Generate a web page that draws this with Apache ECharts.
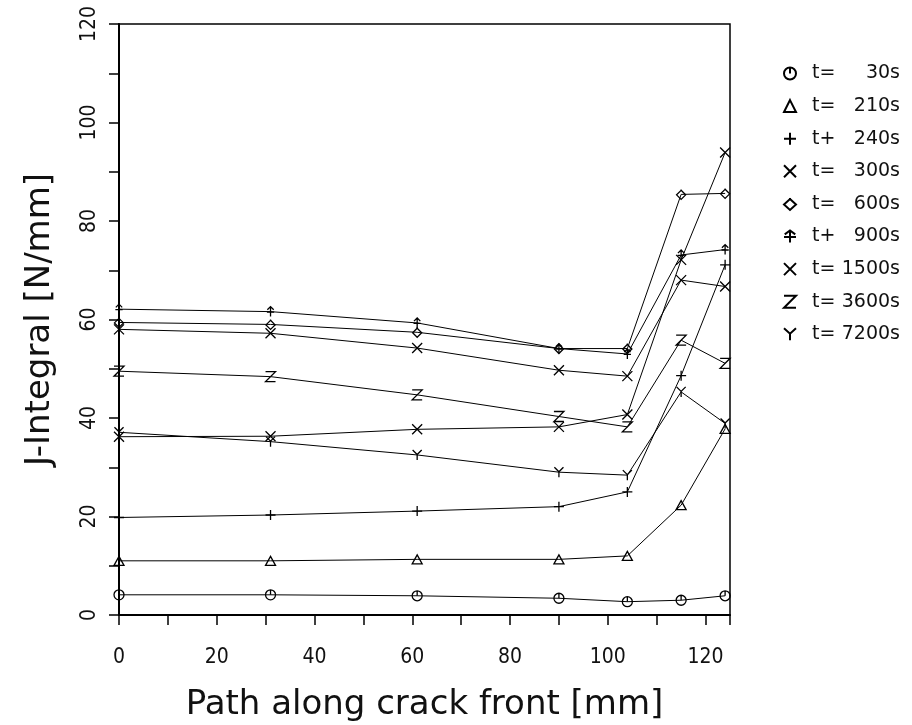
<!DOCTYPE html>
<html>
<head>
<meta charset="utf-8">
<script src="https://cdn.jsdelivr.net/npm/echarts@6/dist/echarts.min.js"></script>
<style>
  html, body { margin: 0; padding: 0; background: #fff; }
  #chart { width: 912px; height: 725px; }
</style>
</head>
<body>
<div id="chart"></div>
<script>
// Positions along the crack front [mm]
const pathPos = [0, 31, 61, 90, 104, 115, 124];

// J-integral values [N/mm] for each time step
const seriesNames = ['t=   30s', 't=  210s', 't+  240s', 't=  300s', 't=  600s', 't+  900s', 't=1500s', 't=3600s', 't=7200s'];
const j30   = [4.1, 4.1, 3.9, 3.4, 2.7, 3.0, 3.9];
const j210  = [11.0, 11.0, 11.3, 11.3, 12.0, 22.3, 37.8];
const j240  = [19.8, 20.3, 21.1, 22.0, 25.0, 48.6, 71.1];
const j300  = [36.2, 36.3, 37.7, 38.2, 40.7, 72.1, 93.9];
const j600  = [59.4, 59.0, 57.4, 54.1, 54.1, 85.4, 85.6];
const j900  = [62.1, 61.6, 59.3, 54.1, 53.0, 73.1, 74.2];
const j1500 = [58.0, 57.2, 54.2, 49.7, 48.5, 68.0, 66.7];
const j3600 = [49.5, 48.4, 44.7, 40.3, 38.2, 55.8, 51.1];
const j7200 = [37.1, 35.2, 32.5, 29.0, 28.4, 45.3, 38.9];

// Axis ticks
const xTickLabels = [0, 20, 40, 60, 80, 100, 120];
const yTickLabels = [0, 20, 40, 60, 80, 100, 120];

// Plotter-style marker shapes
const markers = [
  'path://M5,0 A5,5 0 1 1 5,10 A5,5 0 1 1 5,0 Z M5,0 L5,5',
  'path://M5,0 L10,9 L0,9 Z',
  'path://M5,0 L5,10 M0,5 L10,5',
  'path://M0,0 L10,10 M10,0 L0,10',
  'path://M5,0 L10,5 L5,10 L0,5 Z M5,0 L5,-1',
  'path://M5,0 L5,11 M1,6 L9,6 M1.5,3.5 L5,0 L8.5,3.5',
  'path://M0,0 L10,10 M10,0 L0,10',
  'path://M0,0 L10,0 L0,10 L10,10',
  'path://M0,0 L5,5 L10,0 M5,5 L5,11'
];

const allValues = [j30, j210, j240, j300, j600, j900, j1500, j3600, j7200];

const tickFont = "'Liberation Sans Narrow', 'DejaVu Sans Condensed', 'DejaVu Sans', sans-serif";
const textFont = "'DejaVu Sans', sans-serif";

const series = seriesNames.map((name, i) => ({
  name: name,
  type: 'line',
  data: pathPos.map((x, k) => [x, allValues[i][k]]),
  symbol: markers[i],
  symbolSize: 10,
  symbolKeepAspect: true,
  showSymbol: true,
  animation: false,
  lineStyle: { color: '#000', width: 1 },
  itemStyle: { color: 'rgba(0,0,0,0)', borderColor: '#000', borderWidth: 1.3 },
  emphasis: { disabled: true }
}));

const chart = echarts.init(document.getElementById('chart'), null, { renderer: 'canvas' });

chart.setOption({
  backgroundColor: '#fff',
  animation: false,
  grid: {
    left: 119, right: 182, top: 24, bottom: 110,
    outerBoundsMode: 'none',
    containLabel: false,
    show: true, borderColor: '#000', borderWidth: 1.5, backgroundColor: 'transparent'
  },
  xAxis: {
    type: 'value',
    min: 0, max: 125, interval: 10,
    name: 'Path along crack front [mm]',
    nameLocation: 'middle',
    nameGap: 73,
    nameTextStyle: { fontFamily: textFont, fontSize: 34, color: '#111' },
    axisLine: { show: true, lineStyle: { color: '#000', width: 2 } },
    axisTick: { show: true, inside: false, length: 10, lineStyle: { color: '#000', width: 1.5 } },
    axisLabel: {
      margin: 32,
      fontFamily: tickFont, fontSize: 21, color: '#111',
      formatter: v => xTickLabels.indexOf(v) >= 0 ? String(v) : ''
    },
    splitLine: { show: false }
  },
  yAxis: {
    type: 'value',
    min: 0, max: 120, interval: 10,
    name: 'J-Integral [N/mm]',
    nameLocation: 'middle',
    nameGap: 62,
    nameRotate: 90,
    nameTextStyle: { fontFamily: textFont, fontSize: 34, color: '#111' },
    axisLine: { show: true, lineStyle: { color: '#000', width: 2 } },
    axisTick: { show: true, inside: false, length: 10, lineStyle: { color: '#000', width: 1.5 } },
    axisLabel: {
      margin: 19, rotate: 90,
      fontFamily: tickFont, fontSize: 21, color: '#111',
      formatter: v => yTickLabels.indexOf(v) >= 0 ? String(v) : ''
    },
    splitLine: { show: false }
  },
  legend: {
    orient: 'vertical',
    left: 767, top: 59,
    itemWidth: 34, itemHeight: 15,
    itemGap: 13.6,
    selectedMode: false,
    data: seriesNames,
    lineStyle: { opacity: 0 },
    formatter: name => '{p|' + name.slice(0, 2) + '}{v|' + name.slice(2).trim() + '}',
    textStyle: {
      color: '#111',
      rich: {
        p: { fontFamily: textFont, fontSize: 19, width: 30, lineHeight: 20, color: '#111' },
        v: { fontFamily: textFont, fontSize: 19, width: 58, align: 'right', lineHeight: 20, color: '#111' }
      }
    }
  },
  series: series
});
</script>
</body>
</html>
